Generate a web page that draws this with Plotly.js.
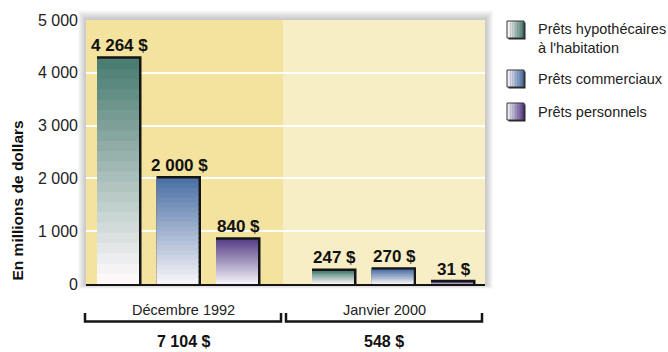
<!DOCTYPE html>
<html><head><meta charset="utf-8">
<script src="https://cdn.plot.ly/plotly-3.0.1.min.js"></script>
<style>html,body{margin:0;padding:0;background:#fff}#chart{width:668px;height:352px}</style>
</head><body><div id="chart"></div>
<script>
// ---- data ----
const periods = ['Décembre 1992', 'Janvier 2000'];
const seriesNames = ["Prêts hypothécaires<br>à l'habitation", 'Prêts commerciaux', 'Prêts personnels'];
const mortgageLoans = [4264, 247];
const commercialLoans = [2000, 270];
const personalLoans = [840, 31];
const yTickValues = [0, 1000, 2000, 3000, 4000, 5000];
const yTickLabels = ['0', '1 000', '2 000', '3 000', '4 000', '5 000'];
const yTitle = 'En millions de dollars';

// ---- styling / geometry ----
const seriesValues = [mortgageLoans, commercialLoans, personalLoans];
const topColors = ['#4b7d72', '#4d72a6', '#5a438a'];
const bottomColors = ['#fdf9fb', '#f5f3f8', '#f2eff6'];
const FONT = 'Liberation Sans, Arial, sans-serif';
const L = 86, T = 20, R = 485, B = 284, FW = 668, FH = 352;
const W = R - L, H = B - T;
const yMax = 5000, perPx = yMax / H;
const groupCenters = [91.5, 306.5], pitch = 59.5, barW = 42, shadowPx = 2.5;
const bandSplit = 197;
const N = 22;

const px2x = px => (px - L) / W;
const py2y = py => (B - py) / H;
function hex(c){return [1,3,5].map(i=>parseInt(c.substr(i,2),16));}
function mix(a,b,t){const A=hex(a),Bc=hex(b);return 'rgb('+A.map((v,i)=>Math.round(v+(Bc[i]-v)*t)).join(',')+')';}
function fmt(n){return String(n).replace(/\B(?=(\d{3})+(?!\d))/g,' ')+' $';}
function barCenter(g,s){return groupCenters[g]+(s-1)*pitch;}

const traces = [];
// shadow / outline
const sh = {x:[],y:[]};
seriesValues.forEach((vals,s)=>vals.forEach((v,g)=>{sh.x.push(barCenter(g,s)+shadowPx/2);sh.y.push(v+shadowPx*perPx);}));
traces.push({type:'bar',x:sh.x,y:sh.y,width:barW+shadowPx,marker:{color:'#151515',line:{width:0}},hoverinfo:'skip',showlegend:false});
// gradient slices (each slightly overlapping the next to avoid seams)
const overlap = 1.0*perPx;
seriesValues.forEach((vals,s)=>{
  const t={x:[],y:[],base:[],colors:[]};
  vals.forEach((v,g)=>{
    for(let i=0;i<N;i++){
      t.x.push(barCenter(g,s)); t.base.push(v*i/N);
      t.y.push(v/N + (i<N-1 ? Math.min(overlap, v/N) : 0));
      t.colors.push(mix(bottomColors[s],topColors[s],i/(N-1)));
    }
  });
  traces.push({type:'bar',x:t.x,y:t.y,base:t.base,width:barW,marker:{color:t.colors,line:{width:0}},hoverinfo:'skip',showlegend:false,name:seriesNames[s]});
});

const shapes = [];
// plot area soft shadow
for(let k=8;k>=1;k--){
  shapes.push({type:'rect',xref:'paper',yref:'paper',x0:px2x(L-k),x1:px2x(R+k),y0:py2y(B+k*0.6),y1:py2y(T-k*1.2),fillcolor:'rgba(0,0,0,0.028)',line:{width:0},layer:'below'});
}
// bands
shapes.push({type:'rect',xref:'x',yref:'paper',x0:0,x1:bandSplit,y0:0,y1:1,fillcolor:'#f3e39f',line:{width:0},layer:'below'});
shapes.push({type:'rect',xref:'x',yref:'paper',x0:bandSplit,x1:W,y0:0,y1:1,fillcolor:'#f8eec6',line:{width:0},layer:'below'});
// brackets
const brackets=[[85,281],[286,482]];
brackets.forEach(([a,b])=>{
  shapes.push({type:'path',xref:'paper',yref:'paper',path:`M ${px2x(a)} ${py2y(313)} L ${px2x(a)} ${py2y(321.5)} L ${px2x(b)} ${py2y(321.5)} L ${px2x(b)} ${py2y(313)}`,line:{color:'#151515',width:2.5}});
});
// legend swatches
const swTop=[21,70,103], swX0=507, swS=17, M=10;
seriesNames.forEach((n,s)=>{
  const y0=swTop[s];
  shapes.push({type:'rect',xref:'paper',yref:'paper',x0:px2x(swX0+1.5),x1:px2x(swX0+swS+1.5),y0:py2y(y0+swS+1.5),y1:py2y(y0+1.5),fillcolor:'#222',line:{width:0}});
  for(let i=0;i<M;i++){
    shapes.push({type:'rect',xref:'paper',yref:'paper',x0:px2x(swX0+swS*i/M),x1:px2x(swX0+swS*(i+1)/M+0.3),y0:py2y(y0+swS),y1:py2y(y0),fillcolor:mix(bottomColors[s],topColors[s],i/(M-1)),line:{width:0}});
  }
  shapes.push({type:'rect',xref:'paper',yref:'paper',x0:px2x(swX0),x1:px2x(swX0+swS),y0:py2y(y0+swS),y1:py2y(y0),line:{color:'#333',width:1}});
});

const annotations = [];
function ann(o){annotations.push(Object.assign({showarrow:false,xanchor:'center',yanchor:'middle'},o));}
seriesValues.forEach((vals,s)=>vals.forEach((v,g)=>{
  ann({x:barCenter(g,s)+1.5,y:v+shadowPx*perPx,xref:'x',yref:'y',yanchor:'bottom',text:fmt(v),font:{family:FONT,size:17,color:'#111',weight:'bold'},yshift:-1});
}));
periods.forEach((p,g)=>{
  const cx=(brackets[g][0]+brackets[g][1])/2;
  ann({x:px2x(cx),y:py2y(310),xref:'paper',yref:'paper',text:p,font:{family:FONT,size:14.5,color:'#222'}});
  const total=seriesValues.reduce((a,vals)=>a+vals[g],0);
  ann({x:px2x(cx),y:py2y(341.5),xref:'paper',yref:'paper',text:fmt(total),font:{family:FONT,size:16,color:'#111',weight:'bold'}});
});
ann({x:px2x(17),y:py2y(200.5),xref:'paper',yref:'paper',text:yTitle,textangle:-90,font:{family:FONT,size:15.5,color:'#111',weight:'bold'}});
const legCenters=[38,79,112];
seriesNames.forEach((n,s)=>{
  ann({x:px2x(536),y:py2y(legCenters[s]),xref:'paper',yref:'paper',xanchor:'left',align:'left',text:n,font:{family:FONT,size:14.5,color:'#222'}});
});

const layout = {
  width:FW,height:FH,margin:{l:L,r:FW-R,t:T,b:FH-B,pad:0},
  paper_bgcolor:'#fff',plot_bgcolor:'rgba(0,0,0,0)',
  barmode:'overlay',showlegend:false,
  font:{family:FONT,color:'#222'},
  xaxis:{range:[0,W],showgrid:false,zeroline:false,showticklabels:false,ticks:'',showline:true,linecolor:'#151515',linewidth:2,fixedrange:true},
  yaxis:{range:[0,yMax],tickvals:yTickValues,ticktext:yTickLabels,showgrid:true,gridcolor:'#ffffff',gridwidth:2,zeroline:false,showline:false,ticks:'',ticklabelstandoff:7,tickfont:{family:FONT,size:16,color:'#222'},fixedrange:true},
  shapes:shapes,annotations:annotations
};
Plotly.newPlot('chart',traces,layout,{displayModeBar:false,staticPlot:true});
</script></body></html>
